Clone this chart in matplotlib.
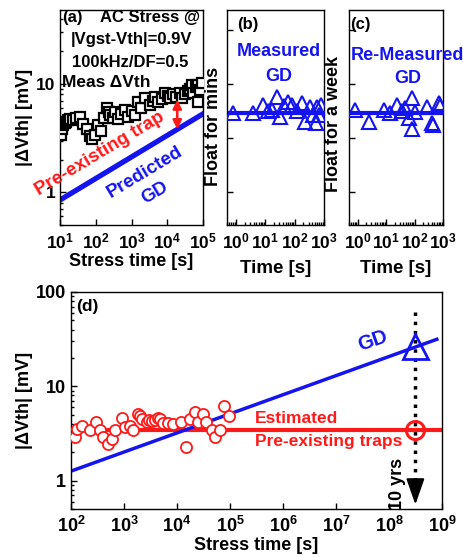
import matplotlib
matplotlib.use("Agg")
import matplotlib.pyplot as plt
from matplotlib.ticker import LogLocator, FixedLocator, FixedFormatter, NullFormatter, NullLocator

plt.rcParams['font.family'] = ['Liberation Sans', 'DejaVu Sans']
plt.rcParams['font.weight'] = 'bold'
plt.rcParams['axes.labelweight'] = 'bold'
plt.rcParams['mathtext.fontset'] = 'custom'
plt.rcParams['mathtext.rm'] = 'Liberation Sans:bold'
plt.rcParams['mathtext.bf'] = 'Liberation Sans:bold'
plt.rcParams['mathtext.it'] = 'Liberation Sans:bold'
plt.rcParams['mathtext.default'] = 'bf'

# ---------------- data ----------------
# (a) measured dVth under AC stress
a_time = [10.5, 11.5, 12.5, 13.8, 15, 17, 19, 23, 28, 36, 45, 57, 68, 80, 95, 116, 140,
          170, 200, 230, 250, 300, 345, 420, 520, 650, 800, 1000, 1250, 1500, 1900, 2400,
          3300, 3900, 4600, 5500, 7000, 8600, 10500, 12000, 14500, 18000, 22000, 26000,
          31000, 38000, 44000, 50000, 53000, 62000, 72000, 72000, 82000, 94000]
a_dvth = [3.4, 3.8, 4.2, 4.4, 4.5, 4.6, 4.7, 4.6, 4.8, 5.0, 4.3, 3.8, 3.3, 3.1, 3.4, 4.2, 3.7,
          4.8, 6.0, 5.5, 5.2, 4.9, 5.5, 4.7, 5.3, 5.8, 5.0, 5.6, 5.2, 6.8, 6.0, 7.4,
          6.4, 7.0, 7.6, 6.8, 7.2, 8.3, 7.8, 7.4, 8.0, 7.6, 8.2, 7.4,
          8.0, 8.6, 9.0, 9.8, 8.3, 9.4, 9.8, 6.8, 8.8, 10.2]
a_gd_time = [10, 1e5]
a_gd_dvth = [0.85, 5.3]
a_arrow_time = 1.9e4
a_arrow_top = 7.6
a_arrow_bot = 3.6

# (b) measured GD after float for mins
b_time = [0.8, 3.8, 8.4, 12, 17, 25, 31, 45, 59, 81, 120, 178, 222, 330, 415, 540, 590, 680, 800]
b_dvth = [5.4, 5.4, 6.4, 5.6, 5.8, 7.6, 5.0, 6.2, 6.8, 6.4, 5.6, 6.7, 4.5, 6.1, 5.2, 4.4, 6.1, 5.2, 6.4]
b_level = 5.4

# (c) re-measured GD after float for a week
c_time = [0.81, 2.5, 8.5, 13.6, 24, 35, 46, 63, 81, 81, 100, 270, 400, 460, 700, 800]
c_dvth = [5.8, 4.5, 5.8, 5.4, 6.4, 5.6, 6.0, 4.9, 7.4, 3.8, 5.5, 6.1, 4.4, 4.2, 6.7, 6.2]
c_level = 5.4

# (d) estimated pre-existing traps and GD extrapolation
d_time = [119, 130, 160, 228, 295, 350, 400, 500, 590, 680, 920, 1050, 1300, 1500, 1840,
          2000, 2200, 2700, 3000, 3350, 3800, 4400, 4800, 5400, 6700, 8400, 12000, 14700,
          17600, 22000, 25000, 31000, 36000, 46000, 53000, 65000, 77000, 95000]
d_dvth = [2.9, 3.5, 3.8, 3.4, 4.2, 3.4, 2.9, 2.45, 2.75, 3.4, 4.6, 3.7, 3.8, 3.4, 5.1,
          4.8, 4.5, 4.2, 4.4, 4.3, 4.4, 4.6, 4.5, 4.1, 4.1, 4.0, 4.2, 2.25,
          4.5, 5.4, 4.2, 5.1, 4.2, 3.4, 2.9, 3.4, 6.2, 4.9]
d_gd_time = [100, 8e8]
d_gd_dvth = [1.26, 31.5]
d_trap_level = 3.4
ten_years = 3.15e8
d_gd_10y = 27
d_trap_10y = 3.4

BLUE = '#1414f0'
RED = '#ff1a1a'

fig = plt.figure(figsize=(4.63, 5.57), dpi=100)
axa = fig.add_axes([0.1296, 0.596, 0.3089, 0.386])
axb = fig.add_axes([0.4903, 0.596, 0.2095, 0.386])
axc = fig.add_axes([0.7538, 0.596, 0.2030, 0.386])
axd = fig.add_axes([0.1533, 0.0862, 0.8013, 0.3896])

for ax in (axa, axb, axc, axd):
    ax.set_xscale('log')
    ax.set_yscale('log')
    ax.tick_params(which='both', direction='in', width=1)
    ax.tick_params(which='major', length=4)
    ax.tick_params(which='minor', length=2)
    for s in ax.spines.values():
        s.set_linewidth(1.0)

# ---- (a)
axa.plot(a_time, a_dvth, 's', ms=6.5, mfc='white', mec='black', mew=1.6, zorder=3)
axa.plot(a_gd_time, a_gd_dvth, '-', color=BLUE, lw=3.8, zorder=2)
axa.annotate('', xy=(a_arrow_time, a_arrow_bot), xytext=(a_arrow_time, a_arrow_top),
             arrowprops=dict(arrowstyle='<|-|>', color=RED, lw=1.8, mutation_scale=13), zorder=4)
axa.set_xlim(10, 1e5)
axa.set_ylim(0.5, 48)
axa.xaxis.set_major_locator(LogLocator(base=10, numticks=10))
axa.yaxis.set_major_locator(FixedLocator([1, 10]))
axa.yaxis.set_major_formatter(FixedFormatter(['1', '10']))
axa.yaxis.set_minor_formatter(NullFormatter())
axa.tick_params(axis='both', labelsize=12.5)
axa.tick_params(axis='x', pad=5)
axa.set_xlabel('Stress time [s]', fontsize=13, labelpad=1)
axa.set_ylabel('|ΔVth| [mV]', fontsize=13)
axa.yaxis.set_label_coords(-0.19, 0.5)
axa.text(0.015, 0.965, '(a)', transform=axa.transAxes, fontsize=12, ha='left', va='center')
axa.text(0.28, 0.965, 'AC Stress @', transform=axa.transAxes, fontsize=12, ha='left', va='center')
axa.text(0.50, 0.865, '|Vgst-Vth|=0.9V', transform=axa.transAxes, fontsize=12, ha='center', va='center')
axa.text(0.49, 0.758, '100kHz/DF=0.5', transform=axa.transAxes, fontsize=12, ha='center', va='center')
axa.text(0.015, 0.665, 'Meas ΔVth', transform=axa.transAxes, fontsize=12.5, ha='left', va='center')
axa.text(0.28, 0.33, 'Pre-existing trap', transform=axa.transAxes, fontsize=13.5, color=RED,
         ha='center', va='center', rotation=31, clip_on=False)
axa.text(0.595, 0.245, 'Predicted', transform=axa.transAxes, fontsize=13.5, color=BLUE,
         ha='center', va='center', rotation=31)
axa.text(0.665, 0.150, 'GD', transform=axa.transAxes, fontsize=13.5, color=BLUE,
         ha='center', va='center', rotation=31)

# ---- (b), (c)
for ax, t, v, lev in ((axb, b_time, b_dvth, b_level), (axc, c_time, c_dvth, c_level)):
    ax.axhline(lev, color=BLUE, lw=3, zorder=2)
    ax.plot(t, v, '^', ms=9.5, mfc='none', mec=BLUE, mew=1.5, zorder=3)
    ax.set_xlim(0.5, 1000)
    ax.set_ylim(0.5, 48)
    ax.xaxis.set_major_locator(LogLocator(base=10, numticks=10))
    ax.yaxis.set_major_locator(FixedLocator([1, 3.16, 10, 31.6]))
    ax.yaxis.set_minor_locator(NullLocator())
    ax.yaxis.set_major_formatter(NullFormatter())
    ax.tick_params(axis='x', labelsize=12.5, pad=5)
    ax.set_xlabel('Time [s]', fontsize=13.5, labelpad=6)

axb.set_ylabel('Float for mins', fontsize=13)
axb.yaxis.set_label_coords(-0.05, 0.46)
axc.set_ylabel('Float for a week', fontsize=13)
axc.yaxis.set_label_coords(-0.075, 0.47)
axb.text(0.10, 0.935, '(b)', transform=axb.transAxes, fontsize=12, ha='left', va='center')
axb.text(0.53, 0.805, 'Measured', transform=axb.transAxes, fontsize=13, color=BLUE, ha='center', va='center')
axb.text(0.53, 0.693, 'GD', transform=axb.transAxes, fontsize=13, color=BLUE, ha='center', va='center')
axc.text(0.01, 0.935, '(c)', transform=axc.transAxes, fontsize=12, ha='left', va='center')
axc.text(0.62, 0.79, 'Re-Measured', transform=axc.transAxes, fontsize=13, color=BLUE,
         ha='center', va='center', clip_on=False)
axc.text(0.62, 0.68, 'GD', transform=axc.transAxes, fontsize=13, color=BLUE, ha='center', va='center')

# ---- (d)
axd.axhline(d_trap_level, color=RED, lw=3, zorder=2)
axd.plot(d_gd_time, d_gd_dvth, '-', color=BLUE, lw=2.5, zorder=2)
axd.plot(d_time, d_dvth, 'o', ms=8, mfc='white', mec=RED, mew=1.3, zorder=3)
axd.plot([ten_years, ten_years], [62, 0.75], ':', color='black', lw=2.5, zorder=4)
axd.annotate('', xy=(ten_years, 0.52), xytext=(ten_years, 0.8),
             arrowprops=dict(arrowstyle='-|>,head_length=0.8,head_width=0.28', color='black',
                             lw=1.5, mutation_scale=20), zorder=5)
axd.plot([ten_years], [d_gd_10y], '^', ms=18, mfc='none', mec=BLUE, mew=2, zorder=5)
axd.plot([ten_years], [d_trap_10y], 'o', ms=13, mfc='none', mec=RED, mew=2.2, zorder=5)
axd.set_xlim(100, 1e9)
axd.set_ylim(0.5, 100)
axd.xaxis.set_major_locator(LogLocator(base=10, numticks=12))
axd.yaxis.set_major_locator(FixedLocator([1, 10, 100]))
axd.yaxis.set_major_formatter(FixedFormatter(['1', '10', '100']))
axd.yaxis.set_minor_formatter(NullFormatter())
axd.tick_params(axis='both', labelsize=13)
axd.tick_params(axis='x', pad=5)
axd.set_xlabel('Stress time [s]', fontsize=13, labelpad=1)
axd.set_ylabel('|ΔVth| [mV]', fontsize=13)
axd.yaxis.set_label_coords(-0.102, 0.5)
axd.text(0.015, 0.935, '(d)', transform=axd.transAxes, fontsize=12.5, ha='left', va='center')
axd.text(5e7, 30, 'GD', fontsize=14.5, color=BLUE, ha='center', va='center', rotation=19)
axd.text(3e5, 4.5, 'Estimated', fontsize=12.5, color=RED, ha='left', va='center')
axd.text(3e5, 2.58, 'Pre-existing traps', fontsize=12.5, color=RED, ha='left', va='center')
axd.text(1.45e8, 0.93, '10 yrs', fontsize=13, color='black', ha='center', va='center', rotation=90)

fig.savefig('out.png', dpi=100)
